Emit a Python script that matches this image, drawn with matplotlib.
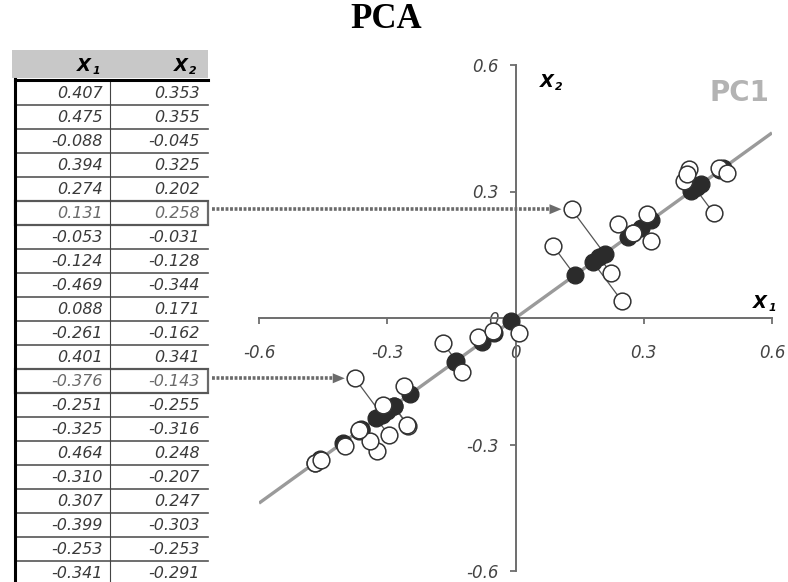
import numpy as np
import matplotlib
matplotlib.use("Agg")
import matplotlib.pyplot as plt
from matplotlib.patches import Rectangle, Polygon
from matplotlib.collections import LineCollection

plt.rcParams['font.family'] = ['DejaVu Sans']

# Observations listed in the table
x1_table = [0.407, 0.475, -0.088, 0.394, 0.274, 0.131, -0.053, -0.124, -0.469, 0.088,
            -0.261, 0.401, -0.376, -0.251, -0.325, 0.464, -0.310, 0.307, -0.399, -0.253, -0.341]
x2_table = [0.353, 0.355, -0.045, 0.325, 0.202, 0.258, -0.031, -0.128, -0.344, 0.171,
            -0.162, 0.341, -0.143, -0.255, -0.316, 0.248, -0.207, 0.247, -0.303, -0.253, -0.291]
# Further observations (rows below the visible part of the table)
x1_more = [0.240, 0.316, 0.223, 0.249, 0.495, -0.170, 0.009, -0.297, -0.367, -0.455]
x2_more = [0.223, 0.182, 0.107, 0.040, 0.344, -0.059, -0.036, -0.277, -0.265, -0.336]

highlighted_rows = [5, 12]
pc1_angle_deg = 36.2
axis_ticks = [-0.6, -0.3, 0, 0.3, 0.6]
tick_labels = ["-0.6", "-0.3", "0", "0.3", "0.6"]

W, H = 788, 582
fig = plt.figure(figsize=(W / 100, H / 100), dpi=100)

# ---------------- scatter with PC1 ----------------
ax = fig.add_axes([259 / W, (H - 571) / H, 513 / W, 506 / H])
ax.set_xlim(-0.6, 0.6)
ax.set_ylim(-0.6, 0.6)
ax.patch.set_visible(False)
for s in ['top', 'right']:
    ax.spines[s].set_visible(False)
ax.spines['left'].set_position(('data', 0))
ax.spines['bottom'].set_position(('data', 0))
for s in ['left', 'bottom']:
    ax.spines[s].set_color('#6e6e6e')
    ax.spines[s].set_linewidth(1.4)
ax.set_xticks(axis_ticks)
ax.set_xticklabels(tick_labels)
ax.set_yticks(axis_ticks)
ax.set_yticklabels(tick_labels)
ax.tick_params(axis='both', direction='out', length=4, width=1.3,
               colors='#6e6e6e', labelcolor='#444444', labelsize=12)
ax.tick_params(axis='x', pad=15)
ax.tick_params(axis='y', pad=8)
for lab in ax.get_xticklabels() + ax.get_yticklabels():
    lab.set_fontstyle('italic')

pts = np.column_stack([x1_table + x1_more, x2_table + x2_more])
theta = np.deg2rad(pc1_angle_deg)
u = np.array([np.cos(theta), np.sin(theta)])
proj = (pts @ u)[:, None] * u

t_end = 0.6 / u[0]
ax.plot([-t_end * u[0], t_end * u[0]], [-t_end * u[1], t_end * u[1]],
        color='#9a9a9a', lw=2.4, solid_capstyle='butt', zorder=1)
segs = [[tuple(p), tuple(q)] for p, q in zip(pts, proj)]
ax.add_collection(LineCollection(segs, colors='#555555', linewidths=0.9, zorder=2))
ax.scatter(proj[:, 0], proj[:, 1], s=145, c='#2b2b2b', edgecolors='#2b2b2b',
           linewidths=1.0, zorder=3, clip_on=False)
ax.scatter(pts[:, 0], pts[:, 1], s=145, facecolors='white', edgecolors='#333333',
           linewidths=1.1, zorder=4, clip_on=False)

# ---------------- overlay in pixel units ----------------
ov = fig.add_axes([0, 0, 1, 1])
ov.set_xlim(0, W)
ov.set_ylim(H, 0)
ov.axis('off')


def sub_label(x, y, main, sub, size=13, color='black'):
    ov.text(x, y, main, ha='center', va='center', size=size, weight='bold',
            style='italic', color=color)
    ov.text(x + 12, y + 5, sub, ha='center', va='center', size=size * 0.6,
            weight='bold', style='italic', color=color)


# axis names and PC1 tag
sub_label(547, 82, 'X', '2')
sub_label(760, 303, 'X', '1')
ov.text(739, 93, 'PC1', ha='center', va='center', size=20, weight='bold', color='#b3b3b3')

# title
fig.text(386 / W, 1 - 20 / H, 'PCA', ha='center', va='center', size=25,
         weight='bold', family='Liberation Serif')

# table
row_h = 24
top = 81
left, mid, right = 15, 110, 208
ov.add_patch(Rectangle((12, 50), right - 12, 28, fc='#c8c8c8', ec='none'))
sub_label(84, 66, 'X', '1')
sub_label(181, 66, 'X', '2')

for i, (a, b) in enumerate(zip(x1_table, x2_table)):
    yc = top + row_h * i + row_h / 2
    col = '#6a6a6a' if i in highlighted_rows else '#3a3a3a'
    ov.text(103, yc, f"{a:.3f}", ha='right', va='center', size=11.5,
            style='italic', color=col)
    ov.text(200, yc, f"{b:.3f}", ha='right', va='center', size=11.5,
            style='italic', color=col)
    ov.plot([left, right], [top + row_h * (i + 1)] * 2, color='#555555', lw=1.2)
ov.plot([mid, mid], [top, H], color='#444444', lw=0.8)
ov.plot([left, right], [top - 1, top - 1], color='black', lw=2.2)
ov.plot([left, left], [top - 2, H], color='black', lw=2.2)
for i in highlighted_rows:
    ov.add_patch(Rectangle((left, top + row_h * i), right - left, row_h,
                           fill=False, ec='#6a6a6a', lw=1.6))


def to_px(x, y):
    return ov.transData.inverted().transform(ax.transData.transform((x, y)))


# dotted pointers from highlighted rows to their points
for i in highlighted_rows:
    cx, cy = to_px(x1_table[i], x2_table[i])
    tip = cx - 10
    ov.plot([right + 4, tip - 11], [cy, cy], color='#6b6b6b', lw=2.6,
            linestyle=(0, (0.8, 0.45)), solid_capstyle='butt')
    ov.add_patch(Polygon([[tip, cy], [tip - 12, cy - 5], [tip - 12, cy + 5]],
                         closed=True, fc='#6b6b6b', ec='none'))

fig.savefig('out.png', dpi=100)
